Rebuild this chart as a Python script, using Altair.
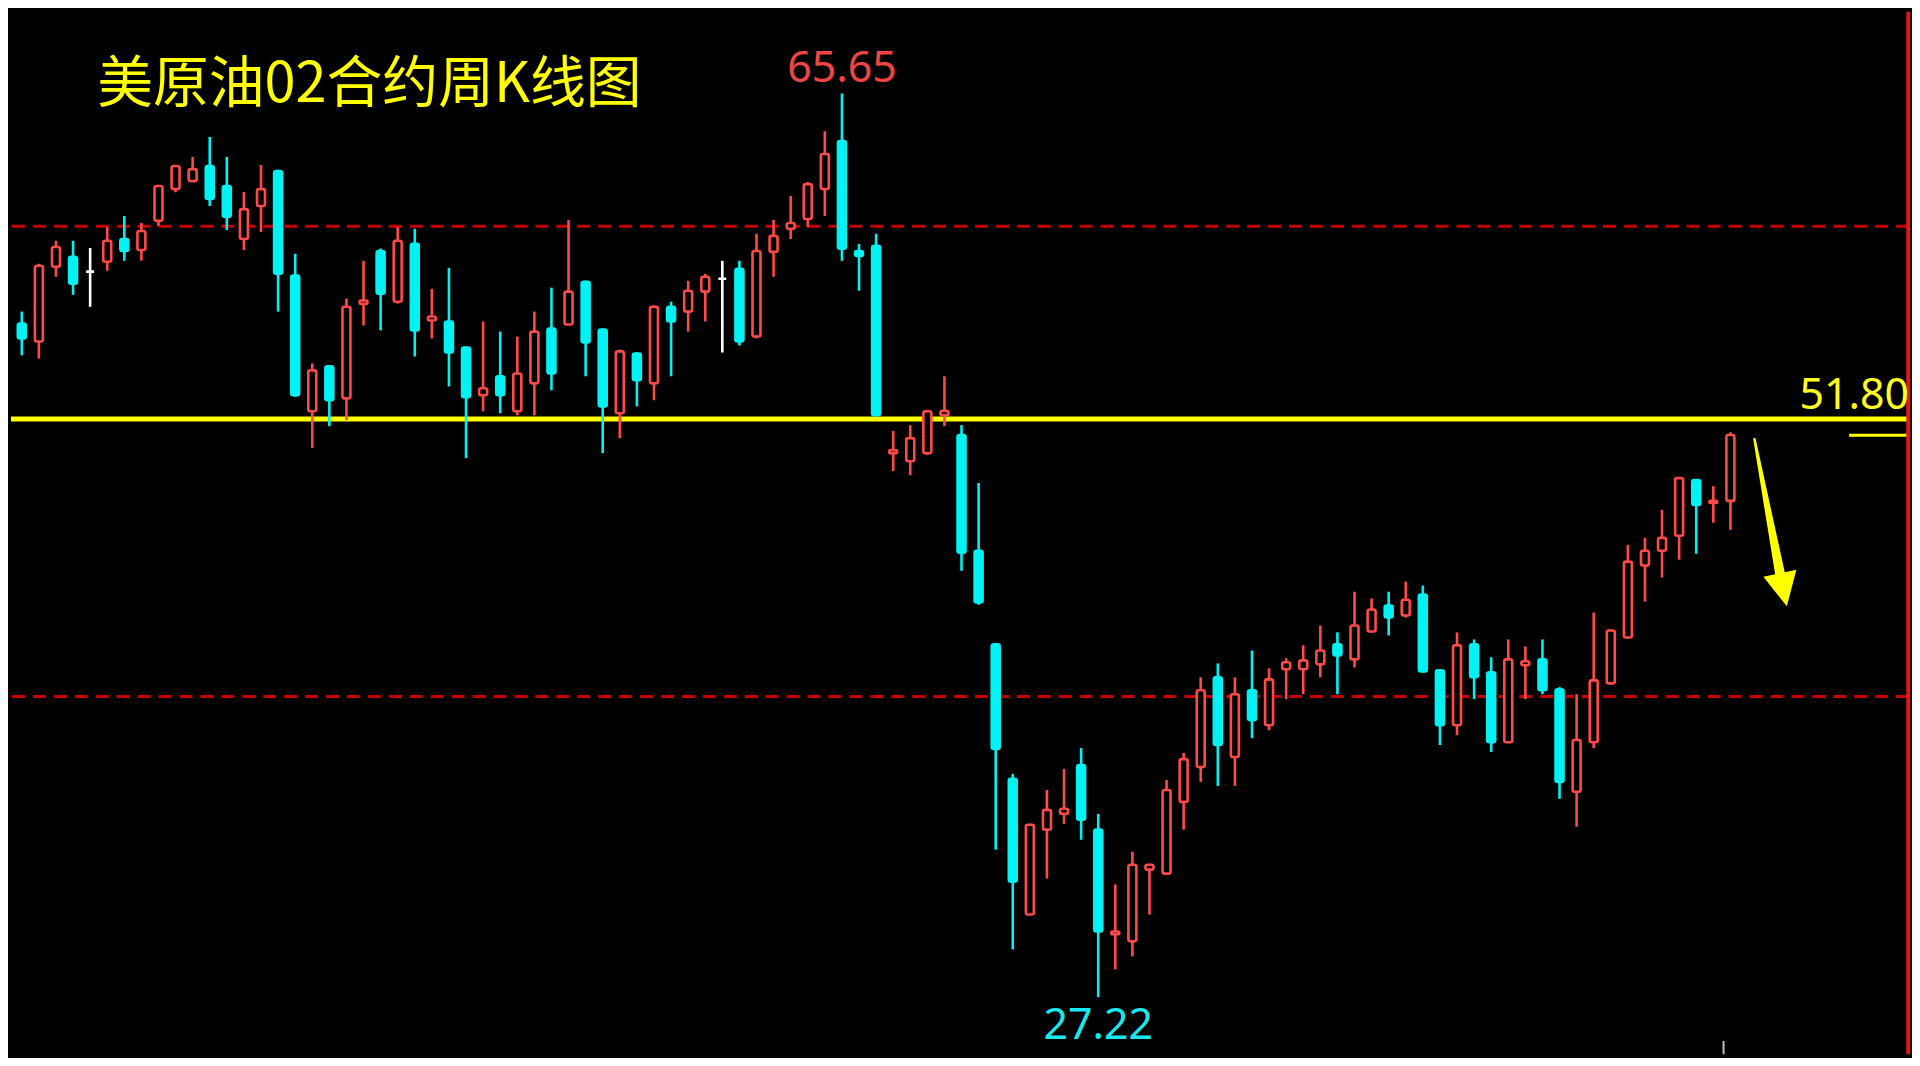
import altair as alt
import pandas as pd

# ---------------- data ----------------
idx = list(range(1, 103))
opens = [54.59, 55.86, 55.10, 58.28, 58.70, 58.07, 58.49, 59.46, 58.99, 60.23,
         61.58, 61.92, 62.56, 61.71, 59.46, 60.86, 62.35, 57.90, 52.13, 54.04,
         52.68, 56.70, 58.95, 56.79, 59.25, 55.99, 55.95, 54.84, 52.81, 53.62,
         52.13, 53.32, 55.65, 55.82, 57.64, 55.61, 52.05, 54.59, 53.32, 56.58,
         56.37, 57.22, 57.77, 58.19, 55.31, 58.91, 59.89, 60.31, 61.58, 63.62,
         58.95, 59.17, 50.35, 50.01, 50.35, 51.96, 51.12, 46.20, 42.22, 36.50,
         30.73, 34.34, 35.01, 37.09, 34.34, 29.89, 29.59, 32.64, 32.47, 35.52,
         37.00, 40.82, 37.43, 40.27, 38.78, 41.16, 41.16, 41.37, 42.22, 41.58,
         42.77, 43.87, 43.45, 44.34, 41.12, 38.78, 42.22, 41.03, 38.06, 41.33,
         41.58, 40.31, 35.95, 38.06, 40.56, 42.51, 45.57, 46.20, 46.84, 49.21,
         48.23, 48.32]
highs = [56.29, 56.37, 58.40, 59.38, 59.38, 59.08, 59.97, 60.44, 60.14, 61.75,
         62.60, 62.94, 63.79, 62.94, 61.46, 62.60, 62.40, 58.83, 54.17, 54.08,
         56.92, 58.53, 59.05, 59.97, 59.89, 57.34, 58.23, 54.88, 55.95, 55.52,
         55.31, 56.37, 57.39, 60.27, 57.68, 55.65, 54.76, 54.63, 56.62, 56.79,
         57.68, 57.98, 58.53, 58.53, 59.68, 60.27, 61.29, 61.88, 64.04, 65.65,
         59.25, 59.68, 51.29, 51.54, 52.17, 53.62, 51.54, 49.08, 42.26, 36.71,
         34.59, 36.03, 36.92, 37.81, 35.01, 32.01, 33.40, 32.89, 36.45, 37.60,
         40.82, 41.41, 40.82, 41.96, 41.20, 41.63, 42.18, 43.02, 42.73, 44.46,
         44.17, 44.46, 44.89, 44.72, 41.16, 42.73, 42.43, 41.67, 42.43, 42.13,
         42.43, 40.40, 40.10, 43.57, 42.85, 46.45, 46.75, 47.94, 49.34, 49.25,
         48.95, 51.24]
lows = [53.32, 54.51, 54.38, 57.85, 57.09, 56.58, 58.11, 58.53, 58.53, 60.01,
        61.45, 61.92, 60.86, 59.84, 58.99, 59.76, 56.37, 52.75, 50.57, 51.50,
        51.75, 55.78, 55.57, 56.71, 54.46, 55.23, 53.19, 50.14, 52.13, 52.05,
        51.96, 51.96, 53.02, 55.78, 53.62, 50.35, 50.99, 52.34, 52.60, 53.62,
        55.52, 55.95, 54.63, 54.93, 55.23, 57.85, 59.46, 59.97, 60.44, 58.53,
        57.26, 51.92, 49.59, 49.42, 50.27, 51.50, 45.35, 43.91, 33.49, 29.25,
        30.73, 32.26, 34.59, 33.91, 27.22, 28.40, 28.95, 30.73, 32.43, 34.34,
        36.37, 36.20, 36.20, 38.23, 38.57, 39.89, 40.10, 40.82, 40.10, 41.24,
        42.73, 42.60, 43.36, 41.03, 37.94, 38.36, 39.89, 37.64, 38.02, 39.89,
        40.10, 35.65, 34.46, 37.81, 40.52, 42.47, 44.04, 45.06, 45.82, 46.07,
        47.39, 47.09]
closes = [55.57, 55.23, 58.32, 59.12, 57.56, 58.07, 59.38, 58.95, 59.80, 61.71,
          62.56, 62.43, 61.16, 60.40, 60.73, 61.58, 57.98, 52.81, 53.87, 52.60,
          56.58, 56.84, 57.13, 59.38, 55.57, 56.16, 54.63, 52.73, 53.11, 52.81,
          53.74, 55.52, 53.74, 57.22, 55.06, 52.34, 54.68, 53.45, 56.58, 55.95,
          57.26, 57.85, 57.77, 55.10, 58.95, 59.59, 60.14, 61.79, 63.07, 59.04,
          58.74, 51.96, 50.48, 50.99, 52.13, 52.15, 46.12, 44.00, 37.77, 32.13,
          34.55, 35.18, 35.23, 34.76, 30.01, 30.01, 32.85, 32.85, 36.03, 37.34,
          40.27, 37.94, 40.10, 39.00, 40.73, 41.46, 41.54, 41.96, 41.75, 43.02,
          43.70, 43.36, 44.12, 41.07, 38.78, 42.18, 40.82, 38.06, 41.58, 41.50,
          40.27, 36.37, 38.15, 40.69, 42.81, 45.74, 46.20, 46.75, 49.29, 48.15,
          48.32, 51.12]

dash_levels = [60.0, 40.0]
key_level = [51.80]

# annotation texts and their anchor points (candle index, price)
title_text = ["美原油02合约周K线图"]
title_x = [6.41]
title_y = [65.99]
hi_text = ["65.65"]
hi_x = [50]
hi_y = [65.65]
lo_text = ["27.22"]
lo_x = [65]
lo_y = [27.22]
key_text = ["51.80"]
key_x = [112.45]
key_y = [51.80]

# small marker segment under the key level, right border, bottom tick
seg_x1 = [108.95]
seg_x2 = [112.6]
seg_y = [51.11]
border_x = [112.41]
tick_x = [101.6]
tick_y1 = [25.35]
tick_y2 = [24.5]

# arrow (shaft points + head)
arrow_x = [103.41, 104.93]
arrow_y = [50.94, 45.13]
arrow_w = [2.5, 10.0]
head_x = [105.10]
head_y = [44.54]

# ---------------- chart ----------------
W, H = 1904, 1046
xs = alt.Scale(domain=[1.3676, 112.454], nice=False, zero=False, padding=0)
ys = alt.Scale(domain=[24.785, 69.126], nice=False, zero=False, padding=0)

df = pd.DataFrame({"i": idx, "open": opens, "high": highs, "low": lows, "close": closes})
df["kind"] = ["up" if c > o else ("down" if c < o else "flat") for o, c in zip(opens, closes)]

RED = "#ff4a4a"
CYAN = "#00f2f2"
kinds = ["up", "down", "flat"]
stroke_scale = alt.Scale(domain=kinds, range=[RED, CYAN, "#ffffff"])
fill_scale = alt.Scale(domain=kinds, range=["#000000", CYAN, "#ffffff"])

X = lambda f: alt.X(f, type="quantitative", scale=xs, axis=None)
Y = lambda f: alt.Y(f, type="quantitative", scale=ys, axis=None)

dashed = alt.Chart(pd.DataFrame({"p": dash_levels})).mark_rule(
    color="#c40000", strokeWidth=3, strokeDash=[13, 8]
).encode(y=Y("p"))

yellow = alt.Chart(pd.DataFrame({"p": key_level})).mark_rule(
    color="#ffff00", strokeWidth=5
).encode(y=Y("p"))

wicks = alt.Chart(df).mark_rule(strokeWidth=2.6, clip=True).encode(
    x=X("i"), y=Y("low"), y2="high",
    color=alt.Color("kind:N", scale=stroke_scale, legend=None),
)

bodies = alt.Chart(df).mark_bar(size=8, strokeWidth=2.6, cornerRadius=2, clip=True).encode(
    x=X("i"), y=Y("open"), y2="close",
    stroke=alt.Stroke("kind:N", scale=stroke_scale, legend=None),
    fill=alt.Fill("kind:N", scale=fill_scale, legend=None),
)

seg = alt.Chart(pd.DataFrame({"x1": seg_x1, "x2": seg_x2, "p": seg_y})).mark_rule(
    color="#ffff00", strokeWidth=3, clip=True
).encode(x=X("x1"), x2="x2", y=Y("p"))

border = alt.Chart(pd.DataFrame({"x": border_x})).mark_rule(
    color="#e01818", strokeWidth=4
).encode(x=X("x"))

tick = alt.Chart(pd.DataFrame({"x": tick_x, "a": tick_y1, "b": tick_y2})).mark_rule(
    color="#bdbdbd", strokeWidth=2, clip=True
).encode(x=X("x"), y=Y("a"), y2="b")

shaft = alt.Chart(pd.DataFrame({"x": arrow_x, "y": arrow_y, "w": arrow_w})).mark_trail(
    color="#ffff00"
).encode(x=X("x"), y=Y("y"), size=alt.Size("w:Q", scale=None, legend=None))

head = alt.Chart(pd.DataFrame({"x": head_x, "y": head_y})).mark_point(
    shape="M-1,-1L1,-1L0,1Z", filled=True, size=1150, angle=348,
    color="#ffff00", opacity=1, strokeWidth=0
).encode(x=X("x"), y=Y("y"))

title = alt.Chart(pd.DataFrame({"t": title_text, "x": title_x, "y": title_y})).mark_text(
    font="Noto Sans CJK SC", fontSize=56, color="#ffff00", align="left", baseline="middle"
).encode(x=X("x"), y=Y("y"), text="t:N")

hi_lab = alt.Chart(pd.DataFrame({"t": hi_text, "x": hi_x, "y": hi_y})).mark_text(
    font="Noto Sans", fontSize=43, color="#f04545", align="center",
    baseline="alphabetic", dy=-11
).encode(x=X("x"), y=Y("y"), text="t:N")

lo_lab = alt.Chart(pd.DataFrame({"t": lo_text, "x": lo_x, "y": lo_y})).mark_text(
    font="Noto Sans", fontSize=43, color="#18e8f0", align="center",
    baseline="alphabetic", dy=42
).encode(x=X("x"), y=Y("y"), text="t:N")

key_lab = alt.Chart(pd.DataFrame({"t": key_text, "x": key_x, "y": key_y})).mark_text(
    font="Noto Sans", fontSize=43, color="#ffff1e", align="right",
    baseline="alphabetic", dy=-10
).encode(x=X("x"), y=Y("y"), text="t:N")

chart = alt.layer(
    dashed, yellow, seg, border, tick, wicks, bodies, shaft, head,
    title, hi_lab, lo_lab, key_lab
).properties(
    width=W, height=H, padding=0, background="#000000"
).configure_view(strokeWidth=0)

chart.save("out.html", embed_options={"renderer": "svg", "actions": False})
